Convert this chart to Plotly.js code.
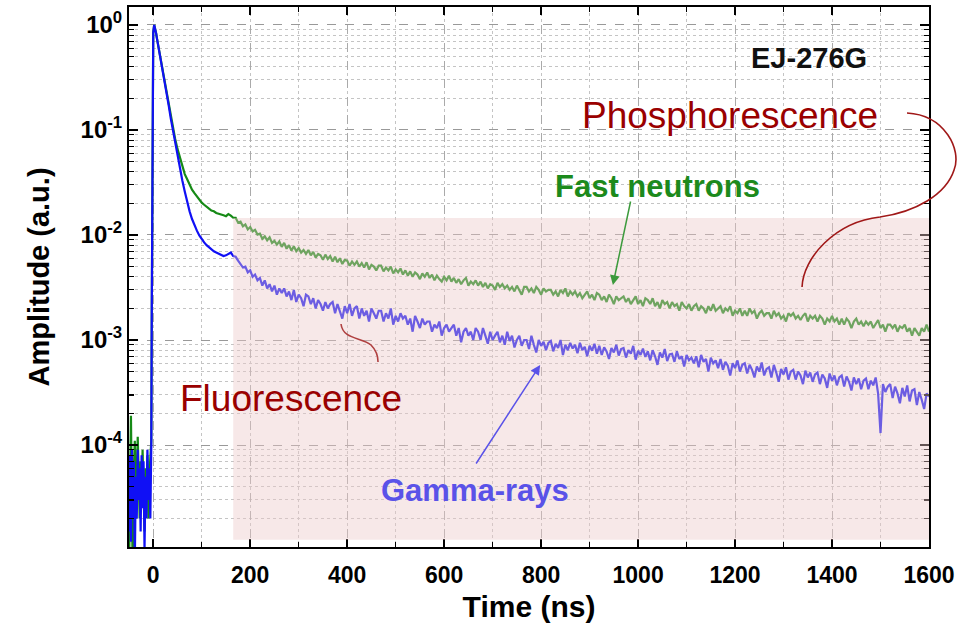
<!DOCTYPE html>
<html>
<head>
<meta charset="utf-8">
<script src="https://cdn.plot.ly/plotly-3.0.1.min.js"></script>
<style>html,body{margin:0;padding:0;background:#fff;}#chart{width:974px;height:623px;}</style>
</head>
<body>
<div id="chart"></div>
<script>
// ---- data ----
const earlyTime = [-50,-48,-46,-44,-42,-40,-38,-36,-34,-32,-30,-28,-26,-24,-22,-20,-18,-16,-14,-12,-10,-8,-6,-4,
  -3,-2,-1,0,2,4,6,8,10,12,14,16,18,20,24,28,32,36,40,
  45,50,55,60,65,70,75,80,85,90,95,100,105,110,115,120,125,130,135,140,145,150,155,160,165];
const earlyNeutrons = [6e-6,4e-5,1.9e-4,2.5e-5,5e-6,6e-5,1.1e-4,2e-5,8e-5,1.2e-4,5e-5,2e-5,7e-5,3e-5,9e-5,4e-5,1.5e-5,6e-5,3e-5,8e-5,2e-5,5e-5,9e-5,1.1e-4,
  2e-3,0.05,0.4,0.85,1.0,0.93,0.83,0.73,0.65,0.58,0.52,0.46,0.41,0.36,0.28,0.22,0.17,0.135,0.107,
  0.083,0.066,0.054,0.045,0.038,0.034,0.030,0.027,0.025,0.0232,0.0216,0.0203,0.0194,0.0184,0.0178,0.0171,0.0168,0.0162,0.0160,0.0157,0.0154,0.0151,0.0158,0.0153,0.0146];
const earlyGamma = [1.5e-5,8e-5,1.2e-5,9e-5,2e-5,7e-5,8e-6,5e-5,2e-5,9e-5,3e-5,6e-5,1.5e-5,8e-5,2.5e-5,7e-5,1e-5,5e-5,2e-5,9e-5,3e-5,6e-5,2e-5,1e-4,
  2e-3,0.05,0.4,0.85,1.0,0.93,0.83,0.73,0.65,0.58,0.52,0.46,0.41,0.36,0.28,0.22,0.17,0.13,0.102,
  0.076,0.057,0.043,0.033,0.026,0.0205,0.0168,0.0142,0.0124,0.0110,0.0099,0.0091,0.0085,0.0080,0.0076,0.0073,0.0070,0.0068,0.0066,0.0064,0.0063,0.0064,0.0066,0.0068,0.0063];

// tail sampled every 5 ns from 170 ns to 1600 ns (one row = 50 ns)
const tailStart = 170, tailStep = 5;
const tailNeutrons = [
  0.0146,0.0131,0.0134,0.0121,0.0126,0.0113,0.0119,0.0108,0.0112,0.0101,
  0.0103,0.0092,0.0097,0.0089,0.0095,0.0084,0.0088,0.0081,0.0087,0.0077,
  0.0084,0.0074,0.0080,0.0071,0.0078,0.0070,0.0075,0.0068,0.0072,0.0066,
  0.0072,0.0064,0.0069,0.0061,0.0066,0.0064,0.0058,0.0065,0.0059,0.0063,
  0.0056,0.0062,0.0055,0.0060,0.0053,0.0058,0.0057,0.0051,0.0056,0.0052,
  0.0056,0.0050,0.0054,0.0049,0.0055,0.0047,0.0052,0.0050,0.0046,0.0051,
  0.0051,0.0045,0.0049,0.0046,0.0050,0.0043,0.0047,0.0044,0.0048,0.0042,
  0.0046,0.0041,0.0045,0.0040,0.0044,0.0042,0.0038,0.0043,0.0040,0.0044,
  0.0039,0.0042,0.0037,0.0041,0.0038,0.0036,0.0040,0.0037,0.0041,0.0036,
  0.0039,0.0035,0.0038,0.0034,0.0037,0.0039,0.0033,0.0036,0.0034,0.0037,
  0.0033,0.0036,0.0032,0.0035,0.0031,0.0034,0.0033,0.0030,0.0035,0.0032,
  0.0034,0.0031,0.0033,0.0030,0.0032,0.0029,0.0033,0.0030,0.0027,0.0032,
  0.0032,0.0029,0.0031,0.0028,0.0032,0.0030,0.0027,0.0031,0.0029,0.0030,
  0.0030,0.0027,0.0029,0.0026,0.0030,0.0028,0.0031,0.0026,0.0029,0.0027,
  0.0029,0.0026,0.0028,0.0025,0.0027,0.0029,0.0025,0.0027,0.0024,0.0028,
  0.0027,0.0024,0.0026,0.0023,0.0027,0.0025,0.0022,0.0026,0.0024,0.0025,
  0.0026,0.0023,0.0025,0.0022,0.0024,0.0026,0.0022,0.0024,0.0021,0.0025,
  0.0024,0.0022,0.0025,0.0021,0.0023,0.0020,0.0024,0.0022,0.0023,0.0020,
  0.0023,0.0021,0.0022,0.0019,0.0023,0.0021,0.0020,0.0022,0.0019,0.0021,
  0.0022,0.0019,0.0021,0.0020,0.0018,0.0021,0.0019,0.0022,0.0019,0.0020,
  0.0021,0.0018,0.0020,0.0019,0.0021,0.0017,0.0019,0.0018,0.0020,0.0017,
  0.0019,0.0017,0.0020,0.0018,0.0019,0.0016,0.0018,0.0019,0.0017,0.0018,
  0.0018,0.0016,0.0019,0.0017,0.0018,0.0016,0.0017,0.0015,0.0018,0.0017,
  0.0018,0.0016,0.0017,0.00155,0.0017,0.0018,0.0015,0.0017,0.0016,0.0017,
  0.0015,0.0017,0.0016,0.0014,0.0016,0.0015,0.0017,0.0015,0.0016,0.0014,
  0.0016,0.0014,0.0016,0.0015,0.0013,0.0015,0.0016,0.0014,0.0015,0.00135,
  0.0015,0.0014,0.0015,0.0013,0.0014,0.00155,0.0013,0.0014,0.0012,0.0014,
  0.0014,0.0013,0.0014,0.0012,0.00135,0.0013,0.0014,0.0012,0.0013,0.0011,
  0.0013,0.0012,0.0011,0.0013,0.0012,0.0014,0.0012];
const tailGamma = [
  0.0062,0.0057,0.0053,0.0049,0.0050,0.0044,0.0046,0.0040,0.0042,0.0037,
  0.0039,0.0033,0.0037,0.0031,0.0034,0.0029,0.0033,0.0027,0.0031,0.0028,
  0.0031,0.0026,0.0029,0.0024,0.0030,0.0023,0.0027,0.0025,0.0021,0.0027,
  0.0026,0.0022,0.0025,0.0020,0.0024,0.0022,0.0019,0.0023,0.0020,0.0022,
  0.0023,0.0018,0.0022,0.0019,0.0016,0.0021,0.0018,0.0022,0.0017,0.0020,
  0.0021,0.0016,0.0020,0.0017,0.0019,0.0015,0.0020,0.0018,0.0016,0.0019,
  0.0019,0.0015,0.0018,0.0016,0.0020,0.0014,0.0017,0.0015,0.0018,0.0016,
  0.0017,0.0014,0.0016,0.0012,0.0017,0.0015,0.0013,0.0016,0.0014,0.0015,
  0.0015,0.0012,0.0014,0.0013,0.0015,0.0011,0.0013,0.0014,0.0012,0.0013,
  0.0014,0.0011,0.0013,0.00095,0.0012,0.0013,0.0011,0.0012,0.0010,0.0013,
  0.0012,0.0010,0.0013,0.0011,0.00092,0.0012,0.0010,0.0011,0.0012,0.00095,
  0.0011,0.00090,0.0012,0.00098,0.0011,0.00085,0.0010,0.0011,0.00088,0.0010,
  0.0010,0.00082,0.0011,0.00090,0.00076,0.0010,0.00088,0.00096,0.00080,0.00094,
  0.00098,0.00078,0.00092,0.00084,0.00100,0.00072,0.00090,0.00080,0.00094,0.00083,
  0.00090,0.00075,0.00094,0.00080,0.00086,0.00070,0.00088,0.00079,0.00092,0.00074,
  0.00088,0.00072,0.00085,0.00078,0.00066,0.00084,0.00076,0.00090,0.00071,0.00082,
  0.00084,0.00068,0.00080,0.00074,0.00088,0.00065,0.00079,0.00072,0.00083,0.00069,
  0.00078,0.00064,0.00080,0.00070,0.00058,0.00076,0.00068,0.00082,0.00063,0.00073,
  0.00074,0.00062,0.00078,0.00066,0.00070,0.00056,0.00072,0.00064,0.00068,0.00060,
  0.00070,0.00055,0.00072,0.00062,0.00066,0.00050,0.00068,0.00060,0.00064,0.00054,
  0.00066,0.00052,0.00062,0.00057,0.00046,0.00060,0.00054,0.00064,0.00050,0.00058,
  0.00060,0.00048,0.00058,0.00052,0.00044,0.00056,0.00050,0.00061,0.00046,0.00053,
  0.00055,0.00044,0.00058,0.00049,0.00040,0.00053,0.00047,0.00055,0.00042,0.00050,
  0.00052,0.00042,0.00050,0.00046,0.00038,0.00051,0.00044,0.00049,0.00040,0.00047,
  0.00049,0.00038,0.00047,0.00043,0.00035,0.00048,0.00041,0.00046,0.00037,0.00044,
  0.00046,0.00036,0.00045,0.00040,0.00033,0.00044,0.00038,0.00043,0.00034,0.00041,
  0.00043,0.00034,0.00041,0.00037,0.00044,0.00031,0.00013,0.00038,0.00032,0.00036,
  0.00038,0.00028,0.00036,0.00031,0.00025,0.00035,0.00029,0.00037,0.00026,0.00033,
  0.00034,0.00024,0.00032,0.00027,0.00022,0.00031,0.00029];

const xTickVals = [0,200,400,600,800,1000,1200,1400,1600];
const yTickVals = [1e-4,1e-3,1e-2,1e-1,1];
const yTickText = ['10<sup>-4</sup>','10<sup>-3</sup>','10<sup>-2</sup>','10<sup>-1</sup>','10<sup>0</sup>'];
const labelSample = 'EJ-276G';
const shadedStart = 165, shadedTop = 0.0145, shadedBottom = 1.25e-5;

// ---- build ----
const tailTime = tailNeutrons.map((_, i) => tailStart + i * tailStep);
const time = earlyTime.concat(tailTime);
const neutrons = earlyNeutrons.concat(tailNeutrons);
const gamma = earlyGamma.concat(tailGamma);

const minorY = [];
for (let d = -5; d <= 0; d++) for (let m = 2; m <= 9; m++) minorY.push(m * Math.pow(10, d));

const W = 974, H = 623, M = {l:129, r:45, t:7, b:76};
const pw = W - M.l - M.r, ph = H - M.t - M.b;
const px = x => (x - M.l) / pw;
const py = y => (H - M.b - y) / ph;
const pathFrom = pts => pts.map(p => typeof p === 'string' ? p : px(p[0]).toFixed(4) + ',' + py(p[1]).toFixed(4)).join(' ');

const FONT = 'Liberation Sans, Arial, sans-serif';
const dark = '#9a0000';

const traces = [
  {x: time, y: neutrons, type: 'scatter', mode: 'lines', name: 'Fast neutrons',
   line: {color: '#168a16', width: 2.2}},
  {x: time, y: gamma, type: 'scatter', mode: 'lines', name: 'Gamma-rays',
   line: {color: '#1010f5', width: 2.2}}
];

const layout = {
  width: W, height: H,
  margin: M,
  paper_bgcolor: '#fff', plot_bgcolor: '#fff',
  showlegend: false,
  font: {family: FONT, color: '#000'},
  xaxis: {
    range: [-50, 1600], tickmode: 'array', tickvals: xTickVals,
    ticks: 'inside', ticklen: 8, tickwidth: 1.5, tickcolor: '#000',
    showline: true, linecolor: '#000', linewidth: 2, mirror: 'allticks',
    showgrid: true, gridcolor: '#aaa', gridwidth: 1, griddash: 'dash',
    zeroline: false, ticklabelstandoff: 6,
    tickfont: {size: 23, weight: 'bold', family: FONT},
    minor: {dtick: 100, tick0: 0, ticks: 'inside', ticklen: 5, tickcolor: '#000', tickwidth: 1.2,
            showgrid: true, gridcolor: '#c4c4c4', gridwidth: 1, griddash: 'dot'},
    title: {text: 'Time (ns)', font: {size: 30, weight: 'bold', family: FONT}, standoff: 10}
  },
  yaxis: {
    type: 'log', range: [-4.971, 0.171],
    tickmode: 'array', tickvals: yTickVals, ticktext: yTickText,
    ticks: 'inside', ticklen: 9, tickwidth: 1.5, tickcolor: '#000',
    showline: true, linecolor: '#000', linewidth: 2, mirror: 'allticks',
    showgrid: true, gridcolor: '#999', gridwidth: 1, griddash: 'dash',
    zeroline: false,
    tickfont: {size: 24, weight: 'bold', family: FONT},
    minor: {tickmode: 'array', tickvals: minorY, ticks: 'inside', ticklen: 5, tickcolor: '#000', tickwidth: 1.2,
            showgrid: true, gridcolor: '#c4c4c4', gridwidth: 1, griddash: 'dot'},
    title: {text: 'Amplitude (a.u.)', font: {size: 29, weight: 'bold', family: FONT}, standoff: 22}
  },
  shapes: [
    {type: 'rect', xref: 'x', yref: 'y', x0: shadedStart, x1: 1600, y0: shadedBottom, y1: shadedTop,
     fillcolor: 'rgba(236,200,200,0.42)', line: {width: 0}, layer: 'above'},
    {type: 'path', xref: 'paper', yref: 'paper', layer: 'above',
     path: 'M' + pathFrom([[907,113],'C',[945,115],[962,150],[954,170],'C',[946,195],[915,212],[880,217],'C',[835,222],[803,258],[802,287]]),
     line: {color: '#a01818', width: 1.6}},
    {type: 'path', xref: 'paper', yref: 'paper', layer: 'above',
     path: 'M' + pathFrom([[341,324],'C',[343,340],[362,337],[371,345],'C',[377,351],[378,357],[378,362]]),
     line: {color: '#b04040', width: 1.6}}
  ],
  annotations: [
    {text: labelSample, xref: 'paper', yref: 'paper', x: px(809), y: py(58), showarrow: false,
     font: {size: 29, weight: 'bold', color: '#111', family: FONT}, xanchor: 'center', yanchor: 'middle'},
    {text: 'Phosphorescence', xref: 'paper', yref: 'paper', x: px(730), y: py(116), showarrow: false,
     font: {size: 37, color: dark, family: FONT}, xanchor: 'center', yanchor: 'middle'},
    {text: 'Fluorescence', xref: 'paper', yref: 'paper', x: px(291), y: py(398), showarrow: false,
     font: {size: 37, color: dark, family: FONT}, xanchor: 'center', yanchor: 'middle'},
    {text: 'Fast neutrons', xref: 'paper', yref: 'paper', x: px(657), y: py(186), showarrow: false,
     font: {size: 31, weight: 'bold', color: '#1c8a1c', family: FONT}, xanchor: 'center', yanchor: 'middle'},
    {text: 'Gamma-rays', xref: 'paper', yref: 'paper', x: px(475), y: py(490), showarrow: false,
     font: {size: 31, weight: 'bold', color: '#5a52e8', family: FONT}, xanchor: 'center', yanchor: 'middle'},
    {text: '', xref: 'x', yref: 'y', x: 948, y: -2.476, showarrow: true, ax: 18, ay: -85,
     arrowhead: 2, arrowsize: 1.3, arrowwidth: 1.5, arrowcolor: '#3c9a3c'},
    {text: '', xref: 'x', yref: 'y', x: 798, y: -3.238, showarrow: true, ax: -65, ay: 100,
     arrowhead: 2, arrowsize: 1.3, arrowwidth: 1.5, arrowcolor: '#5a52e8'}
  ]
};

Plotly.newPlot('chart', traces, layout, {displayModeBar: false, staticPlot: true});
</script>
</body>
</html>
